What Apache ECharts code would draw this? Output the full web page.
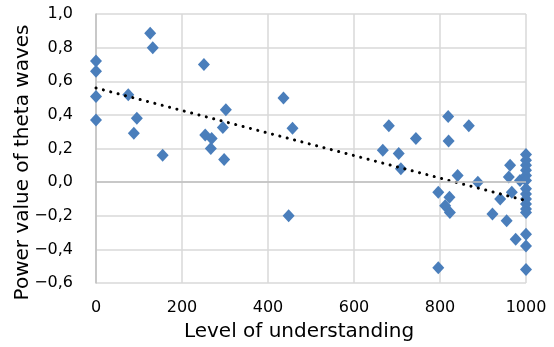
<!DOCTYPE html>
<html><head><meta charset="utf-8">
<script src="https://cdn.jsdelivr.net/npm/echarts@6/dist/echarts.min.js"></script>
<style>html,body{margin:0;padding:0;background:#fff}#c{width:554px;height:347px}</style>
</head><body><div id="c"></div>
<script>
const understanding = [0,0,0,0,75,95,88,126,132,155,251,254,269,267,295,302,298,436,457,448,681,667,704,744,709,819,820,867,841,888,796,822,812,823,796,922,940,955,963,960,967,986,976,1000,1000,1000,1000,1000,1000,1000,1000,1000,1000,1000,1000,1000,1000,1000];
const thetaPower = [0.72,0.66,0.51,0.37,0.52,0.38,0.29,0.885,0.80,0.16,0.70,0.28,0.26,0.20,0.325,0.43,0.135,0.50,0.32,-0.20,0.335,0.19,0.17,0.26,0.08,0.39,0.245,0.335,0.04,0.0,-0.06,-0.09,-0.14,-0.18,-0.51,-0.19,-0.10,-0.23,0.10,0.03,-0.06,0.01,-0.34,0.165,0.13,0.10,0.07,0.04,0.01,-0.04,-0.07,-0.10,-0.13,-0.16,-0.18,-0.31,-0.38,-0.52];
const trendX = [0,1000];
const trendY = [0.56,-0.11];
const xTicks = [0,200,400,600,800,1000];
const yTicks = ['−0,6','−0,4','−0,2','0,0','0,2','0,4','0,6','0,8','1,0'];

const font = '"DejaVu Sans", sans-serif';
const chart = echarts.init(document.getElementById('c'));
chart.setOption({
  animation:false,
  grid:{left:96,right:28,top:14,bottom:64,containLabel:false,outerBoundsMode:'none'},
  xAxis:{type:'value',min:0,max:1000,interval:200,
    name:'Level of understanding',nameLocation:'middle',nameGap:39,nameMoveOverlap:false,
    nameTextStyle:{fontFamily:font,fontSize:20,color:'#000',padding:[0,24,0,0]},
    axisLine:{show:false},axisTick:{show:false},
    axisLabel:{fontFamily:font,fontSize:16,color:'#000',margin:17,formatter:v=>String(v)},
    splitLine:{show:true,lineStyle:{color:'#d9d9d9',width:1.5}}},
  yAxis:{type:'value',min:-0.6,max:1.0,interval:0.2,
    name:'Power value of theta waves',nameLocation:'middle',nameGap:63,nameMoveOverlap:false,
    nameTextStyle:{fontFamily:font,fontSize:20,color:'#000',padding:[0,28,0,0]},
    axisLine:{show:true,lineStyle:{color:'#bfbfbf',width:1.5}},axisTick:{show:false},
    axisLabel:{fontFamily:font,fontSize:16,color:'#000',margin:23,
      formatter:v=>yTicks[Math.round((v+0.6)/0.2)]},
    splitLine:{show:true,lineStyle:{color:'#d9d9d9',width:1.5}}},
  series:[
    {type:'line',data:trendX.map((x,i)=>[x,trendY[i]]),symbol:'none',silent:true,z:3,
      lineStyle:{color:'#000',width:3,type:[0.1,7.5],cap:'round'},
      markLine:{silent:true,symbol:'none',label:{show:false},
        lineStyle:{color:'#bfbfbf',width:1.5,type:'solid'},data:[{yAxis:0}]}},
    {type:'scatter',data:understanding.map((x,i)=>[x,thetaPower[i]]),symbol:'diamond',symbolSize:[12,13],
      itemStyle:{color:'#4a7ebb',opacity:1},z:2}
  ]
});
</script></body></html>
